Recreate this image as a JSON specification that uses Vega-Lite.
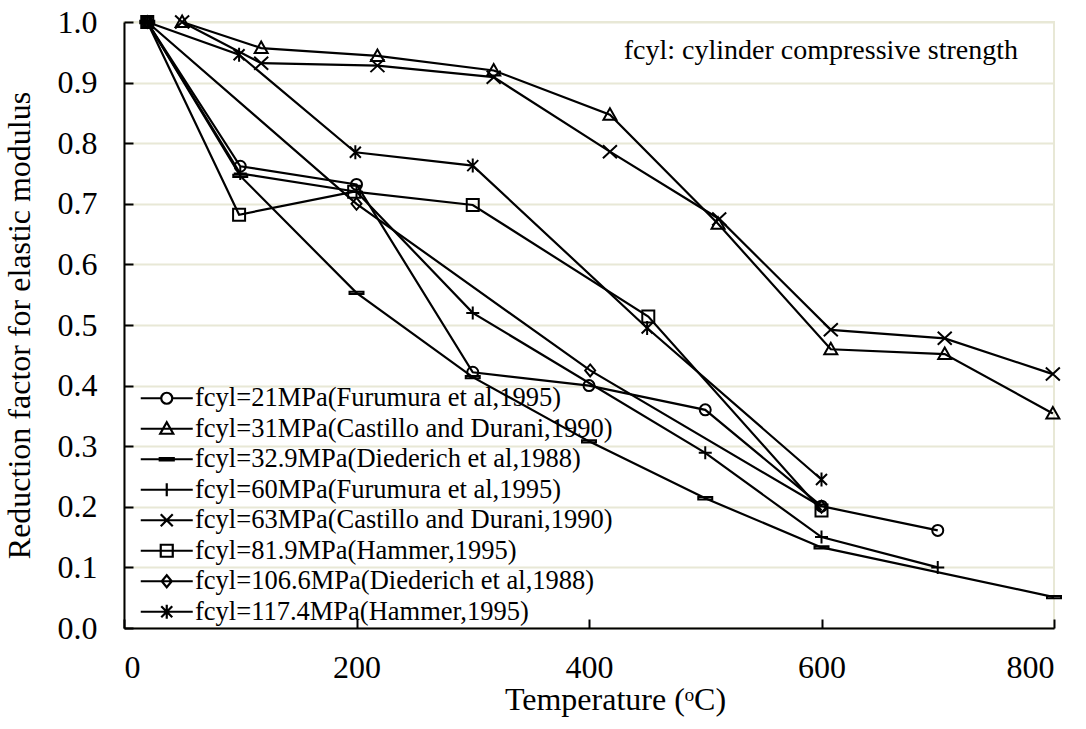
{
  "$schema": "https://vega.github.io/schema/vega-lite/v6.json",
  "autosize": {"type": "none"},
  "width": 930,
  "height": 606,
  "padding": {"left": 124, "top": 22, "right": 32, "bottom": 101},
  "background": "white",
  "datasets": {
    "curves": [
      {"s": "fcyl=21MPa(Furumura et al,1995)", "t": 20, "v": 1.0},
      {"s": "fcyl=21MPa(Furumura et al,1995)", "t": 100, "v": 0.762},
      {"s": "fcyl=21MPa(Furumura et al,1995)", "t": 200, "v": 0.732},
      {"s": "fcyl=21MPa(Furumura et al,1995)", "t": 300, "v": 0.422},
      {"s": "fcyl=21MPa(Furumura et al,1995)", "t": 400, "v": 0.400},
      {"s": "fcyl=21MPa(Furumura et al,1995)", "t": 500, "v": 0.360},
      {"s": "fcyl=21MPa(Furumura et al,1995)", "t": 600, "v": 0.201},
      {"s": "fcyl=21MPa(Furumura et al,1995)", "t": 700, "v": 0.161},

      {"s": "fcyl=31MPa(Castillo and Durani,1990)", "t": 50, "v": 1.0},
      {"s": "fcyl=31MPa(Castillo and Durani,1990)", "t": 118, "v": 0.957},
      {"s": "fcyl=31MPa(Castillo and Durani,1990)", "t": 218, "v": 0.944},
      {"s": "fcyl=31MPa(Castillo and Durani,1990)", "t": 318, "v": 0.920},
      {"s": "fcyl=31MPa(Castillo and Durani,1990)", "t": 418, "v": 0.847},
      {"s": "fcyl=31MPa(Castillo and Durani,1990)", "t": 511, "v": 0.667},
      {"s": "fcyl=31MPa(Castillo and Durani,1990)", "t": 608, "v": 0.460},
      {"s": "fcyl=31MPa(Castillo and Durani,1990)", "t": 706, "v": 0.452},
      {"s": "fcyl=31MPa(Castillo and Durani,1990)", "t": 799, "v": 0.354},

      {"s": "fcyl=32.9MPa(Diederich et al,1988)", "t": 20, "v": 1.0},
      {"s": "fcyl=32.9MPa(Diederich et al,1988)", "t": 100, "v": 0.746},
      {"s": "fcyl=32.9MPa(Diederich et al,1988)", "t": 200, "v": 0.553},
      {"s": "fcyl=32.9MPa(Diederich et al,1988)", "t": 300, "v": 0.414},
      {"s": "fcyl=32.9MPa(Diederich et al,1988)", "t": 400, "v": 0.308},
      {"s": "fcyl=32.9MPa(Diederich et al,1988)", "t": 500, "v": 0.214},
      {"s": "fcyl=32.9MPa(Diederich et al,1988)", "t": 600, "v": 0.133},
      {"s": "fcyl=32.9MPa(Diederich et al,1988)", "t": 800, "v": 0.051},

      {"s": "fcyl=60MPa(Furumura et al,1995)", "t": 20, "v": 1.0},
      {"s": "fcyl=60MPa(Furumura et al,1995)", "t": 100, "v": 0.750},
      {"s": "fcyl=60MPa(Furumura et al,1995)", "t": 200, "v": 0.720},
      {"s": "fcyl=60MPa(Furumura et al,1995)", "t": 300, "v": 0.520},
      {"s": "fcyl=60MPa(Furumura et al,1995)", "t": 500, "v": 0.289},
      {"s": "fcyl=60MPa(Furumura et al,1995)", "t": 600, "v": 0.150},
      {"s": "fcyl=60MPa(Furumura et al,1995)", "t": 700, "v": 0.100},

      {"s": "fcyl=63MPa(Castillo and Durani,1990)", "t": 50, "v": 1.0},
      {"s": "fcyl=63MPa(Castillo and Durani,1990)", "t": 118, "v": 0.932},
      {"s": "fcyl=63MPa(Castillo and Durani,1990)", "t": 218, "v": 0.928},
      {"s": "fcyl=63MPa(Castillo and Durani,1990)", "t": 318, "v": 0.909},
      {"s": "fcyl=63MPa(Castillo and Durani,1990)", "t": 418, "v": 0.786},
      {"s": "fcyl=63MPa(Castillo and Durani,1990)", "t": 512, "v": 0.675},
      {"s": "fcyl=63MPa(Castillo and Durani,1990)", "t": 608, "v": 0.492},
      {"s": "fcyl=63MPa(Castillo and Durani,1990)", "t": 706, "v": 0.478},
      {"s": "fcyl=63MPa(Castillo and Durani,1990)", "t": 799, "v": 0.419},

      {"s": "fcyl=81.9MPa(Hammer,1995)", "t": 20, "v": 1.0},
      {"s": "fcyl=81.9MPa(Hammer,1995)", "t": 99, "v": 0.682},
      {"s": "fcyl=81.9MPa(Hammer,1995)", "t": 198, "v": 0.720},
      {"s": "fcyl=81.9MPa(Hammer,1995)", "t": 300, "v": 0.698},
      {"s": "fcyl=81.9MPa(Hammer,1995)", "t": 451, "v": 0.514},
      {"s": "fcyl=81.9MPa(Hammer,1995)", "t": 600, "v": 0.194},

      {"s": "fcyl=106.6MPa(Diederich et al,1988)", "t": 20, "v": 1.0},
      {"s": "fcyl=106.6MPa(Diederich et al,1988)", "t": 200, "v": 0.700},
      {"s": "fcyl=106.6MPa(Diederich et al,1988)", "t": 401, "v": 0.425},
      {"s": "fcyl=106.6MPa(Diederich et al,1988)", "t": 600, "v": 0.200},

      {"s": "fcyl=117.4MPa(Hammer,1995)", "t": 20, "v": 1.0},
      {"s": "fcyl=117.4MPa(Hammer,1995)", "t": 99, "v": 0.946},
      {"s": "fcyl=117.4MPa(Hammer,1995)", "t": 199, "v": 0.785},
      {"s": "fcyl=117.4MPa(Hammer,1995)", "t": 300, "v": 0.763},
      {"s": "fcyl=117.4MPa(Hammer,1995)", "t": 450, "v": 0.495},
      {"s": "fcyl=117.4MPa(Hammer,1995)", "t": 600, "v": 0.245}
    ],
    "notes": [{"note": "fcyl: cylinder compressive strength"}]
  },
  "layer": [
    {
      "data": {"name": "curves"},
      "mark": {"type": "line", "color": "black", "strokeWidth": 2.2, "clip": false},
      "encoding": {
        "x": {
          "field": "t",
          "type": "quantitative",
          "scale": {"domain": [0, 800], "nice": false, "zero": false},
          "axis": {
            "values": [0, 200, 400, 600, 800],
            "grid": false,
            "title": "Temperature (ᵒC)",
            "titleX": 491,
            "titleY": 81,
            "titleBaseline": "alphabetic",
            "titleAlign": "center",
            "labelFont": "Liberation Serif",
            "labelPadding": 33
          }
        },
        "y": {
          "field": "v",
          "type": "quantitative",
          "scale": {"domain": [0, 1], "nice": false, "zero": false},
          "axis": {
            "values": [0, 0.1, 0.2, 0.3, 0.4, 0.5, 0.6, 0.7, 0.8, 0.9, 1.0],
            "format": ".1f",
            "grid": true,
            "title": "Reduction factor for elastic modulus",
            "titleFont": "Liberation Serif",
            "titleFontSize": 32,
            "titlePadding": 21,
            "labelFont": "Liberation Serif",
            "labelPadding": 36
          }
        },
        "detail": {"field": "s"}
      }
    },
    {
      "data": {"name": "curves"},
      "mark": {"type": "point", "filled": false, "color": "black", "strokeWidth": 2, "opacity": 1, "size": 4},
      "encoding": {
        "x": {"field": "t", "type": "quantitative"},
        "y": {"field": "v", "type": "quantitative"},
        "shape": {
          "field": "s",
          "type": "nominal",
          "legend": null,
          "scale": {
            "domain": [
              "fcyl=21MPa(Furumura et al,1995)",
              "fcyl=31MPa(Castillo and Durani,1990)",
              "fcyl=32.9MPa(Diederich et al,1988)",
              "fcyl=60MPa(Furumura et al,1995)",
              "fcyl=63MPa(Castillo and Durani,1990)",
              "fcyl=81.9MPa(Hammer,1995)",
              "fcyl=106.6MPa(Diederich et al,1988)",
              "fcyl=117.4MPa(Hammer,1995)"
            ],
            "range": [
              "M5.5,0A5.5,5.5 0 1,1 -5.5,0A5.5,5.5 0 1,1 5.5,0Z",
              "M0,-6.5L6.5,5L-6.5,5Z",
              "M-7,-1.2H7V1.2H-7Z",
              "M-6.5,0H6.5M0,-6.5V6.5",
              "M-7,-6.5L7,6.5M-7,6.5L7,-6.5",
              "M-6,-6H6V6H-6Z",
              "M0,-6L5,0L0,6L-5,0Z",
              "M-5.5,-5.5L5.5,5.5M-5.5,5.5L5.5,-5.5M0,-7V7"
            ]
          }
        }
      }
    },
    {
      "data": {"name": "curves"},
      "transform": [{"filter": "false"}],
      "mark": {"type": "point", "filled": false, "color": "black", "strokeWidth": 2.2, "opacity": 1, "size": 4},
      "encoding": {
        "x": {"field": "t", "type": "quantitative"},
        "y": {"field": "v", "type": "quantitative"},
        "shape": {
          "field": "s",
          "type": "nominal",
          "legend": {
            "title": null,
            "orient": "none",
            "legendX": 29.5,
            "legendY": 363,
            "padding": 0,
            "rowPadding": 3.5,
            "labelFont": "Liberation Serif",
            "labelFontSize": 26.5,
            "labelColor": "black",
            "labelLimit": 1000,
            "labelOffset": 15,
            "symbolSize": 4,
            "symbolStrokeWidth": 2.2,
            "symbolStrokeColor": "black",
            "symbolFillColor": "transparent",
            "symbolOpacity": 1
          },
          "scale": {
            "domain": [
              "fcyl=21MPa(Furumura et al,1995)",
              "fcyl=31MPa(Castillo and Durani,1990)",
              "fcyl=32.9MPa(Diederich et al,1988)",
              "fcyl=60MPa(Furumura et al,1995)",
              "fcyl=63MPa(Castillo and Durani,1990)",
              "fcyl=81.9MPa(Hammer,1995)",
              "fcyl=106.6MPa(Diederich et al,1988)",
              "fcyl=117.4MPa(Hammer,1995)"
            ],
            "range": [
              "M-26,0H-5.5M5.5,0H26M5.5,0A5.5,5.5 0 1,1 -5.5,0A5.5,5.5 0 1,1 5.5,0Z",
              "M-26,0H26M0,-6.5L6.5,5L-6.5,5Z",
              "M-26,0H26M-7,-1.2H7V1.2H-7Z",
              "M-26,0H26M0,-6.5V6.5",
              "M-26,0H26M-6,-6L6,6M-6,6L6,-6",
              "M-26,0H26M-6,-6H6V6H-6Z",
              "M-26,0H26M0,-6L5,0L0,6L-5,0Z",
              "M-26,0H26M-5.5,-5.5L5.5,5.5M-5.5,5.5L5.5,-5.5M0,-7V7"
            ]
          }
        }
      }
    },
    {
      "data": {"name": "notes"},
      "mark": {
        "type": "text",
        "align": "right",
        "baseline": "alphabetic",
        "font": "Liberation Serif",
        "fontSize": 28,
        "fill": "black",
        "opacity": 1
      },
      "encoding": {
        "text": {"field": "note", "type": "nominal"},
        "x": {"datum": 769, "type": "quantitative"},
        "y": {"datum": 0.939, "type": "quantitative"}
      }
    }
  ],
  "resolve": {"scale": {"shape": "independent"}, "legend": {"shape": "independent"}},
  "config": {
    "view": {"stroke": "#E8E8D6", "strokeWidth": 2},
    "axis": {
      "domainColor": "black",
      "domainWidth": 2,
      "tickColor": "black",
      "tickWidth": 2,
      "tickSize": -9,
      "labelFont": "Liberation Serif",
      "labelFontSize": 32,
      "labelColor": "black",
      "titleFont": "Liberation Serif",
      "titleFontSize": 32,
      "titleFontWeight": "normal",
      "titleColor": "black",
      "gridColor": "#E8E8D6",
      "gridWidth": 2,
      "gridOpacity": 1
    }
  }
}
